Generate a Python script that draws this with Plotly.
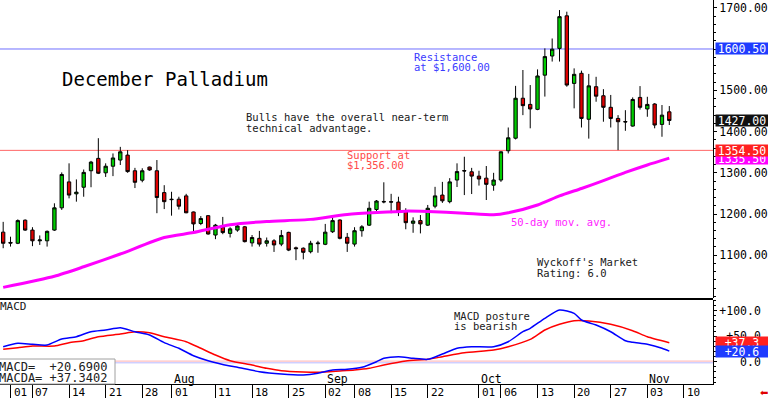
import math
import pandas as pd
import plotly.graph_objects as go

# ---------------- data ----------------
HOLIDAYS = ["2025-07-04", "2025-09-01"]
sessions = [d.strftime("%Y-%m-%d") for d in pd.bdate_range("2025-06-30", "2025-11-14")
            if d.strftime("%Y-%m-%d") not in HOLIDAYS]

opens = [1156, 1131, 1129, 1185, 1161, 1135, 1135, 1161, 1215, 1278,
         1249, 1265, 1305, 1335, 1300, 1316, 1331, 1343, 1305, 1282,
         1314, 1305, 1252, 1236, 1236, 1244, 1205, 1177, 1196, 1149,
         1168, 1153, 1161, 1169, 1130, 1141, 1129, 1135, 1127, 1155.5,
         1118, 1117, 1108.5, 1128, 1126.5, 1157, 1185.5, 1143.5, 1127, 1159.5,
         1173, 1211, 1230.5, 1230, 1229, 1205.5, 1177.5, 1184, 1173, 1219,
         1246, 1230, 1282.5, 1305.5, 1302.5, 1292, 1287, 1270, 1282.5, 1353.5,
         1384, 1481, 1466, 1454, 1537, 1583.5, 1602, 1681, 1517, 1541.5,
         1430, 1509, 1487, 1459, 1432, 1424.5, 1413.5, 1483, 1455, 1467,
         1417.5, 1448]
highs = [1181, 1145, 1187, 1187, 1168, 1148, 1160, 1226, 1301, 1323,
         1284, 1308, 1329, 1384, 1323, 1347, 1363, 1355, 1312, 1311,
         1315, 1331, 1270, 1254, 1242, 1249, 1206, 1195, 1197, 1176,
         1193, 1168, 1174, 1171, 1149, 1159, 1143, 1139, 1161, 1157,
         1121, 1119, 1135, 1135, 1176, 1195, 1187, 1154, 1168, 1173,
         1230, 1234, 1277, 1249, 1242, 1214, 1192, 1197.5, 1222, 1266,
         1278, 1287, 1323, 1339, 1312, 1305, 1316.5, 1300, 1352, 1410,
         1511, 1549.5, 1513, 1551, 1602, 1626, 1695, 1691, 1553.5, 1548,
         1540, 1533, 1503, 1489, 1440, 1452, 1483, 1510.5, 1484.5, 1469,
         1464.5, 1462]
lows = [1117, 1121, 1127, 1159, 1122, 1125, 1121, 1159, 1210, 1238,
        1230, 1242, 1265, 1297, 1290, 1292, 1319, 1300, 1263, 1277,
        1305, 1202, 1212, 1196, 1211, 1202, 1157, 1173, 1150, 1139,
        1151, 1143, 1157, 1131, 1121, 1121, 1121, 1108, 1122, 1110,
        1088, 1090, 1104.5, 1106, 1124.5, 1154, 1138.5, 1108, 1121, 1145,
        1171, 1205.5, 1226, 1202, 1195, 1163, 1154.5, 1153, 1171, 1214,
        1227, 1226, 1265.5, 1246, 1248.5, 1269, 1234, 1256.5, 1278, 1347,
        1381, 1440, 1408, 1452, 1485, 1570, 1570, 1509, 1456.5, 1410,
        1383, 1472.5, 1424, 1410, 1355, 1402, 1412, 1453.5, 1436, 1408,
        1387.5, 1416]
closes = [1129, 1129.5, 1184, 1161, 1135, 1137, 1158, 1215, 1296, 1246,
          1253, 1301, 1326, 1299, 1316, 1336, 1351, 1303, 1277, 1305,
          1307, 1240, 1230, 1235, 1219, 1203, 1176, 1189, 1151.5, 1173,
          1155, 1164, 1171, 1133, 1143, 1127, 1135, 1125, 1148, 1112.5,
          1116, 1107, 1129, 1129.5, 1156, 1184, 1141, 1129, 1159.5, 1169,
          1214, 1231.5, 1229.5, 1229, 1205.5, 1179, 1183, 1176, 1214, 1244,
          1232, 1278, 1303, 1304.5, 1292, 1285, 1272, 1282.5, 1351, 1385,
          1481, 1463, 1455, 1535, 1582, 1600, 1679, 1513, 1539, 1432,
          1511, 1486, 1459, 1432, 1424, 1423.5, 1478, 1459, 1466, 1416,
          1440, 1427]

# 50-day moving average, read at selected sessions (session number from Jun 30)
ma_session = [0, 7, 11, 16, 22, 26, 31, 36, 42, 47, 55, 58, 63, 67, 69, 73, 76, 79, 82, 85, 88, 91]
ma_value = [1022, 1049, 1072, 1103, 1143, 1155, 1174, 1182, 1187, 1199, 1207, 1206,
            1202, 1198, 1203, 1222, 1244, 1262, 1281, 1301, 1319, 1335.5]

macd_session = [0, 2, 4, 6, 8, 10, 12, 14, 16, 18, 20, 22, 24, 26, 28, 31, 32, 35, 38, 41,
                43, 45, 47, 49, 51, 52, 54, 56, 58, 60, 62, 64, 67, 69, 71, 72, 74, 76, 78, 79,
                81, 83, 85, 86, 88, 90, 91]
macd_value = [29.4, 36, 34, 32.7, 44.5, 49, 58.8, 62.2, 66.7, 58.8, 52.4, 37.3, 26.3, 11.8, 2,
              -8.4, -11, -19.6, -24.1, -26.1, -22.7, -16.3, -14.9, -11, 0, 6.7, 9.8, 6.7, 4.7,
              15.1, 26.3, 29.4, 29.4, 39.2, 58.8, 65.5, 85.1, 101.4, 94.9, 81.8, 72, 58.8,
              41.2, 38, 34.1, 26.3, 20.69]
signal_session = [0, 2, 4, 7, 9, 11, 13, 16, 18, 20, 22, 25, 27, 29, 31, 34, 36, 38, 41, 43,
                  46, 48, 50, 52, 55, 58, 60, 63, 67, 69, 72, 74, 76, 78, 80, 83, 86, 88, 91]
signal_value = [24.3, 27.5, 30.8, 30.8, 37.3, 41.2, 49, 54.3, 58.8, 56.9, 49, 39.2, 26.3, 13.1,
                2, -6.5, -12.9, -17.6, -20.2, -20.8, -18.2, -16.3, -12.9, -6.5, 1.4, 4.7, 9.8,
                17.6, 22.9, 29.4, 43.9, 62.2, 73.3, 80.4, 79.8, 73.3, 60.8, 49, 37.34]
macd_last = 20.6900
signal_last = 37.3402

resistance = 1600.50
support = 1354.50
price_ticks = [1100, 1200, 1300, 1400, 1500, 1600, 1700]
macd_ticks = [0, 50, 100]
tick_dates = ["2025-07-01", "2025-07-07", "2025-07-14", "2025-07-21", "2025-07-28",
              "2025-08-01", "2025-08-11", "2025-08-18", "2025-08-25", "2025-09-02",
              "2025-09-08", "2025-09-15", "2025-09-22", "2025-10-01", "2025-10-06",
              "2025-10-13", "2025-10-20", "2025-10-27", "2025-11-03", "2025-11-10"]
month_starts = ["2025-08-01", "2025-09-02", "2025-10-01", "2025-11-03"]

# ---------------- layout helpers ----------------
W, H = 768, 398
ML, MR, MT, MB = 0, 55, 0, 14
PW, PH = W - ML - MR, H - MT - MB
FONT = "DejaVu Sans Mono"


def px_x(px):
    return (px - ML) / PW


def px_y(py):
    return (PH - (py - MT)) / PH


x_session = list(range(len(opens)))
pos_of = {d: i for i, d in enumerate(sessions)}
tick_pos = [pos_of[d] for d in tick_dates]

fig = go.Figure()

fig.add_trace(go.Candlestick(
    x=x_session, open=opens, high=highs, low=lows, close=closes,
    xaxis="x", yaxis="y",
    increasing=dict(line=dict(color="black", width=1), fillcolor="#00cc00"),
    decreasing=dict(line=dict(color="black", width=1), fillcolor="#e00000"),
    whiskerwidth=0, hoverinfo="skip", showlegend=False))

fig.add_trace(go.Scatter(x=ma_session, y=ma_value, mode="lines", xaxis="x", yaxis="y",
                         line=dict(color="#ff00ff", width=3, shape="spline", smoothing=0.6),
                         hoverinfo="skip", showlegend=False))

fig.add_trace(go.Scatter(x=signal_session, y=signal_value, mode="lines", xaxis="x", yaxis="y2",
                         line=dict(color="#ff0000", width=1.5, shape="spline", smoothing=0.6),
                         hoverinfo="skip", showlegend=False))
fig.add_trace(go.Scatter(x=macd_session, y=macd_value, mode="lines", xaxis="x", yaxis="y2",
                         line=dict(color="#0000ff", width=1.5, shape="spline", smoothing=0.6),
                         hoverinfo="skip", showlegend=False))

price_domain = [px_y(298), 1]
macd_domain = [0, px_y(300)]
price_range = [996.2, 1719.4]
macd_range = [-43.7, 121]

shapes = [
    dict(type="line", xref="paper", yref="y", x0=0, x1=1, y0=resistance, y1=resistance,
         line=dict(color="#7070ff", width=1), layer="below"),
    dict(type="line", xref="paper", yref="y", x0=0, x1=1, y0=support, y1=support,
         line=dict(color="#ff6666", width=1), layer="below"),
    dict(type="line", xref="paper", yref="y2", x0=0, x1=1, y0=1.2, y1=1.2,
         line=dict(color="#ffb0b0", width=1), layer="below"),
    dict(type="line", xref="paper", yref="y2", x0=0, x1=1, y0=-2.2, y1=-2.2,
         line=dict(color="#b8b8ff", width=1), layer="below"),
    dict(type="line", xref="paper", yref="paper", x0=0, x1=1, y0=px_y(299), y1=px_y(299),
         line=dict(color="black", width=2), layer="above"),
    dict(type="rect", xref="paper", yref="paper", x0=px_x(-6), x1=px_x(115),
         y0=px_y(384), y1=px_y(359), line=dict(color="#a0a0a0", width=1),
         fillcolor="white", layer="above"),
]

ann = []


def text(px, py, s, color="#202020", size=10.5, anchor="left"):
    ann.append(dict(xref="paper", yref="paper", x=px_x(px), y=px_y(py), text=s,
                    showarrow=False, xanchor=anchor, yanchor="middle",
                    font=dict(family=FONT, size=size, color=color)))


text(60, 79, "December Palladium", color="black", size=19)
text(244, 117, "Bulls have the overall near-term")
text(244, 127.5, "technical advantage.")
text(412, 57, "Resistance", color="#3a3aff")
text(412, 67, "at $1,600.00", color="#3a3aff")
text(345, 154.5, "Support at", color="#ff4a4a")
text(345, 164.5, "$1,356.00", color="#ff4a4a")
text(509, 222.5, "50-day mov. avg.", color="#ff22ff")
text(535, 262, "Wyckoff's Market")
text(535, 273, "Rating: 6.0")
text(452, 316, "MACD posture")
text(452, 326, "is bearish")
text(-2, 306.5, "MACD", size=11)
text(-3, 366.5, "MACD=  %+.4f" % macd_last, size=12)
text(-3, 377.5, "MACDA= %+.4f" % signal_last, size=12)

# date tick labels and month labels
for p, d in zip(tick_pos, tick_dates):
    ann.append(dict(xref="x", yref="paper", x=p, y=px_y(392.5), text=d[8:10], showarrow=False,
                    xanchor="left", yanchor="middle", xshift=1,
                    font=dict(family=FONT, size=11, color="black")))
for d in month_starts:
    ann.append(dict(xref="x", yref="paper", x=pos_of[d], y=px_y(379), text=pd.Timestamp(d).strftime("%b"),
                    showarrow=False, xanchor="left", yanchor="middle", xshift=0,
                    font=dict(family=FONT, size=11.5, color="black")))


def right_label(yref, val, s, bg):
    ann.append(dict(xref="paper", yref=yref, x=1, y=val, text=s, showarrow=False,
                    xanchor="left", yanchor="middle", xshift=2, width=52, height=11,
                    align="center", bgcolor=bg, borderpad=0,
                    font=dict(family=FONT, size=11.5, color="white")))


def trunc1(v):
    return math.floor(v * 10) / 10


right_label("y", resistance, "%.2f" % resistance, "#1f3cff")
right_label("y", closes[-1], "%.2f" % closes[-1], "#111111")
right_label("y", ma_value[-1], "%.2f" % ma_value[-1], "#ff00ff")
right_label("y", support, "%.2f" % support, "#ff2020")
right_label("y2", signal_last, "%+.1f" % trunc1(signal_last), "#ff2020")
right_label("y2", macd_last, "%+.1f" % trunc1(macd_last), "#1f3cff")

ann.append(dict(xref="paper", yref="paper", x=1, y=px_y(392), text="⬅", showarrow=False,
                xanchor="left", yanchor="middle", xshift=45,
                font=dict(family="DejaVu Sans", size=10, color="#e00000")))

macd_ticktext = []
for v in macd_ticks:
    s = "0.0" if v == 0 else "%+.1f" % v
    macd_ticktext.append("\u00a0" * (6 - len(s)) + s)

fig.update_layout(
    width=W, height=H, margin=dict(l=ML, r=MR, t=MT, b=MB),
    paper_bgcolor="white", plot_bgcolor="white", showlegend=False,
    font=dict(family=FONT, size=11.5, color="black"),
    xaxis=dict(range=[-0.434, 96.97], anchor="y2", showgrid=False, zeroline=False,
               tickvals=tick_pos, showticklabels=False, ticks="outside", ticklen=13,
               tickcolor="black", tickwidth=1, showline=True, linecolor="black", linewidth=1,
               rangeslider=dict(visible=False), fixedrange=True),
    yaxis=dict(domain=price_domain, range=price_range, side="right", anchor="x",
               showgrid=False, zeroline=False, tickvals=price_ticks,
               ticktext=["%.2f" % v for v in price_ticks], ticks="outside", ticklen=3,
               tickcolor="black", showline=True, linecolor="black", linewidth=1,
               minor=dict(dtick=20, ticks="outside", ticklen=2, tickcolor="black"),
               tickfont=dict(family=FONT, size=11.5, color="black")),
    yaxis2=dict(domain=macd_domain, range=macd_range, side="right", anchor="x",
                showgrid=False, zeroline=False, tickvals=macd_ticks, ticktext=macd_ticktext,
                ticks="outside", ticklen=3, tickcolor="black", showline=True,
                linecolor="black", linewidth=1,
                minor=dict(dtick=10, ticks="outside", ticklen=2, tickcolor="black"),
                tickfont=dict(family=FONT, size=11.5, color="black")),
    boxgap=0.35,
    shapes=shapes, annotations=ann,
)

fig.write_html("out.html", config={"displayModeBar": False, "staticPlot": True},
               post_script="document.body.style.margin='0';document.body.style.overflow='hidden';")
